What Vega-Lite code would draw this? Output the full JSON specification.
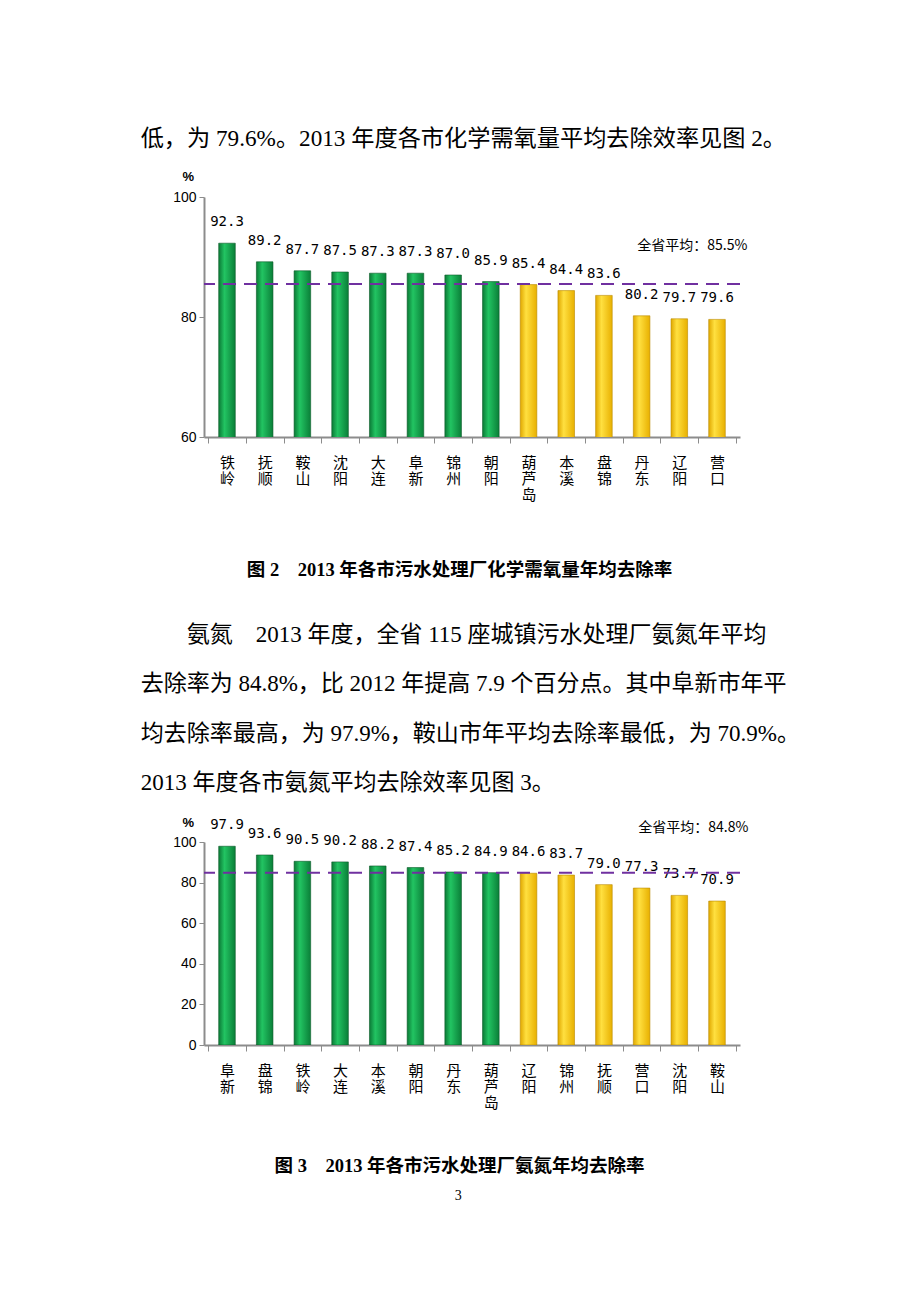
{
  "$schema": "https://vega.github.io/schema/vega-lite/v6.json",
  "padding": {"top": 126, "left": 140, "right": 20, "bottom": 20},
  "background": "white",
  "config": {
    "view": {"stroke": null},
    "title": {"color": "black", "fontWeight": "normal"}
  },
  "datasets": {
    "cod": [
      {"city": "铁岭", "value": 92.3, "grp": "high"},
      {"city": "抚顺", "value": 89.2, "grp": "high"},
      {"city": "鞍山", "value": 87.7, "grp": "high"},
      {"city": "沈阳", "value": 87.5, "grp": "high"},
      {"city": "大连", "value": 87.3, "grp": "high"},
      {"city": "阜新", "value": 87.3, "grp": "high"},
      {"city": "锦州", "value": 87.0, "grp": "high"},
      {"city": "朝阳", "value": 85.9, "grp": "high"},
      {"city": "葫芦岛", "value": 85.4, "grp": "low"},
      {"city": "本溪", "value": 84.4, "grp": "low"},
      {"city": "盘锦", "value": 83.6, "grp": "low"},
      {"city": "丹东", "value": 80.2, "grp": "low"},
      {"city": "辽阳", "value": 79.7, "grp": "low"},
      {"city": "营口", "value": 79.6, "grp": "low"}
    ],
    "nh": [
      {"city": "阜新", "value": 97.9, "grp": "high"},
      {"city": "盘锦", "value": 93.6, "grp": "high"},
      {"city": "铁岭", "value": 90.5, "grp": "high"},
      {"city": "大连", "value": 90.2, "grp": "high"},
      {"city": "本溪", "value": 88.2, "grp": "high"},
      {"city": "朝阳", "value": 87.4, "grp": "high"},
      {"city": "丹东", "value": 85.2, "grp": "high"},
      {"city": "葫芦岛", "value": 84.9, "grp": "high"},
      {"city": "辽阳", "value": 84.6, "grp": "low"},
      {"city": "锦州", "value": 83.7, "grp": "low"},
      {"city": "抚顺", "value": 79.0, "grp": "low"},
      {"city": "营口", "value": 77.3, "grp": "low"},
      {"city": "沈阳", "value": 73.7, "grp": "low"},
      {"city": "鞍山", "value": 70.9, "grp": "low"}
    ],
    "codAvg": [{"avg": 85.5, "label": "全省平均：85.5%", "city": "辽阳"}],
    "nhAvg": [{"avg": 84.8, "label": "全省平均：84.8%", "city": "沈阳"}]
  },
  "title": {
    "text": "3",
    "orient": "bottom",
    "anchor": "middle",
    "font": "Liberation Serif",
    "fontSize": 14,
    "offset": 14,
    "dx": -12
  },
  "spacing": 44,
  "vconcat": [
    {
      "width": 536,
      "height": 240,
      "title": {
        "text": "低，为 79.6%。2013 年度各市化学需氧量平均去除效率见图 2。",
        "anchor": "start",
        "font": "Liberation Serif, Noto Sans CJK SC",
        "fontSize": 23.2,
        "dx": -32,
        "offset": 19
      },
      "encoding": {
        "x": {
          "field": "city",
          "type": "nominal",
          "sort": null,
          "scale": {"paddingInner": 0, "paddingOuter": 0.11},
          "axis": {
            "title": "图 2　2013 年各市污水处理厂化学需氧量年均去除率",
            "titleFont": "Liberation Serif, Noto Sans CJK SC",
            "titleFontSize": 18.5,
            "titleFontWeight": "bold",
            "titleColor": "black",
            "titlePadding": 58,
            "titleX": 255,
            "titleAlign": "center",
            "labelAngle": 0,
            "labelExpr": "split(datum.label, '')",
            "labelFont": "Noto Sans CJK SC",
            "labelFontSize": 15,
            "labelLineHeight": 16,
            "labelPadding": 12,
            "labelColor": "black",
            "labelBaseline": "top",
            "domainColor": "#8c8c8c",
            "domainWidth": 2,
            "tickColor": "#8c8c8c",
            "tickBand": "extent",
            "tickSize": 6
          }
        },
        "y": {
          "field": "value",
          "type": "quantitative",
          "scale": {"domain": [60, 100], "zero": false, "nice": false},
          "axis": {
            "values": [60, 80, 100],
            "title": "%",
            "titleAngle": 0,
            "titleX": -22,
            "titleY": -14,
            "titleFont": "Liberation Sans",
            "titleFontSize": 13,
            "titleFontWeight": "bold",
            "titleColor": "black",
            "titleAlign": "left",
            "labelFont": "Liberation Sans",
            "labelFontSize": 14,
            "labelColor": "black",
            "labelPadding": 3,
            "grid": false,
            "domainColor": "#8c8c8c",
            "domainWidth": 2,
            "tickColor": "#8c8c8c",
            "tickSize": 5
          }
        }
      },
      "layer": [
        {
          "data": {"name": "cod"},
          "transform": [{"filter": "datum.grp === 'high'"}],
          "mark": {
            "type": "bar",
            "clip": true,
            "width": {"band": 0.44},
            "stroke": "#0a5a28",
            "strokeWidth": 0.6,
            "color": {"gradient": "linear", "x1": 0, "y1": 0, "x2": 1, "y2": 0,
              "stops": [{"offset": 0, "color": "#0b7a36"}, {"offset": 0.35, "color": "#22c462"}, {"offset": 1, "color": "#0a7f38"}]}
          }
        },
        {
          "data": {"name": "cod"},
          "transform": [{"filter": "datum.grp === 'low'"}],
          "mark": {
            "type": "bar",
            "clip": true,
            "width": {"band": 0.44},
            "stroke": "#b88a00",
            "strokeWidth": 0.6,
            "color": {"gradient": "linear", "x1": 0, "y1": 0, "x2": 1, "y2": 0,
              "stops": [{"offset": 0, "color": "#e0a800"}, {"offset": 0.35, "color": "#ffe040"}, {"offset": 1, "color": "#e8b000"}]}
          }
        },
        {
          "data": {"name": "cod"},
          "mark": {"type": "text", "dy": -21, "font": "DejaVu Sans Mono", "fontSize": 14, "color": "black"},
          "encoding": {"text": {"field": "value", "type": "quantitative", "format": ".1f"}}
        },
        {
          "data": {"name": "codAvg"},
          "mark": {"type": "rule", "color": "#7030a0", "strokeWidth": 2, "strokeDash": [13, 8]},
          "encoding": {"x": null, "y": {"field": "avg", "type": "quantitative"}}
        },
        {
          "data": {"name": "codAvg"},
          "mark": {"type": "text", "font": "Noto Sans CJK SC", "fontSize": 14, "color": "black", "dx": 13, "dy": -38},
          "encoding": {
            "x": {"field": "city", "type": "nominal"},
            "y": {"field": "avg", "type": "quantitative"},
            "text": {"field": "label"}
          }
        }
      ]
    },
    {
      "width": 536,
      "height": 203,
      "title": {
        "text": [
          "\u200b　　氨氮　2013 年度，全省 115 座城镇污水处理厂氨氮年平均",
          "去除率为 84.8%，比 2012 年提高 7.9 个百分点。其中阜新市年平",
          "均去除率最高，为 97.9%，鞍山市年平均去除率最低，为 70.9%。",
          "2013 年度各市氨氮平均去除效率见图 3。"
        ],
        "anchor": "start",
        "font": "Liberation Serif, Noto Sans CJK SC",
        "fontSize": 23,
        "lineHeight": 49.5,
        "dx": -32,
        "offset": 21
      },
      "encoding": {
        "x": {
          "field": "city",
          "type": "nominal",
          "sort": null,
          "scale": {"paddingInner": 0, "paddingOuter": 0.11},
          "axis": {
            "title": "图 3　2013 年各市污水处理厂氨氮年均去除率",
            "titleFont": "Liberation Serif, Noto Sans CJK SC",
            "titleFontSize": 18.5,
            "titleFontWeight": "bold",
            "titleColor": "black",
            "titlePadding": 46,
            "titleX": 255,
            "titleAlign": "center",
            "labelAngle": 0,
            "labelExpr": "split(datum.label, '')",
            "labelFont": "Noto Sans CJK SC",
            "labelFontSize": 15,
            "labelLineHeight": 16,
            "labelPadding": 12,
            "labelColor": "black",
            "labelBaseline": "top",
            "domainColor": "#8c8c8c",
            "domainWidth": 2,
            "tickColor": "#8c8c8c",
            "tickBand": "extent",
            "tickSize": 6
          }
        },
        "y": {
          "field": "value",
          "type": "quantitative",
          "scale": {"domain": [0, 100], "nice": false},
          "axis": {
            "values": [0, 20, 40, 60, 80, 100],
            "title": "%",
            "titleAngle": 0,
            "titleX": -22,
            "titleY": -13,
            "titleFont": "Liberation Sans",
            "titleFontSize": 13,
            "titleFontWeight": "bold",
            "titleColor": "black",
            "titleAlign": "left",
            "labelFont": "Liberation Sans",
            "labelFontSize": 14,
            "labelColor": "black",
            "labelPadding": 3,
            "grid": false,
            "domainColor": "#8c8c8c",
            "domainWidth": 2,
            "tickColor": "#8c8c8c",
            "tickSize": 5
          }
        }
      },
      "layer": [
        {
          "data": {"name": "nh"},
          "transform": [{"filter": "datum.grp === 'high'"}],
          "mark": {
            "type": "bar",
            "clip": true,
            "width": {"band": 0.44},
            "stroke": "#0a5a28",
            "strokeWidth": 0.6,
            "color": {"gradient": "linear", "x1": 0, "y1": 0, "x2": 1, "y2": 0,
              "stops": [{"offset": 0, "color": "#0b7a36"}, {"offset": 0.35, "color": "#22c462"}, {"offset": 1, "color": "#0a7f38"}]}
          }
        },
        {
          "data": {"name": "nh"},
          "transform": [{"filter": "datum.grp === 'low'"}],
          "mark": {
            "type": "bar",
            "clip": true,
            "width": {"band": 0.44},
            "stroke": "#b88a00",
            "strokeWidth": 0.6,
            "color": {"gradient": "linear", "x1": 0, "y1": 0, "x2": 1, "y2": 0,
              "stops": [{"offset": 0, "color": "#e0a800"}, {"offset": 0.35, "color": "#ffe040"}, {"offset": 1, "color": "#e8b000"}]}
          }
        },
        {
          "data": {"name": "nh"},
          "mark": {"type": "text", "dy": -21, "font": "DejaVu Sans Mono", "fontSize": 14, "color": "black"},
          "encoding": {"text": {"field": "value", "type": "quantitative", "format": ".1f"}}
        },
        {
          "data": {"name": "nhAvg"},
          "mark": {"type": "rule", "color": "#7030a0", "strokeWidth": 2, "strokeDash": [13, 8]},
          "encoding": {"x": null, "y": {"field": "avg", "type": "quantitative"}}
        },
        {
          "data": {"name": "nhAvg"},
          "mark": {"type": "text", "font": "Noto Sans CJK SC", "fontSize": 14, "color": "black", "dx": 14, "dy": -45},
          "encoding": {
            "x": {"field": "city", "type": "nominal"},
            "y": {"field": "avg", "type": "quantitative"},
            "text": {"field": "label"}
          }
        }
      ]
    }
  ]
}
